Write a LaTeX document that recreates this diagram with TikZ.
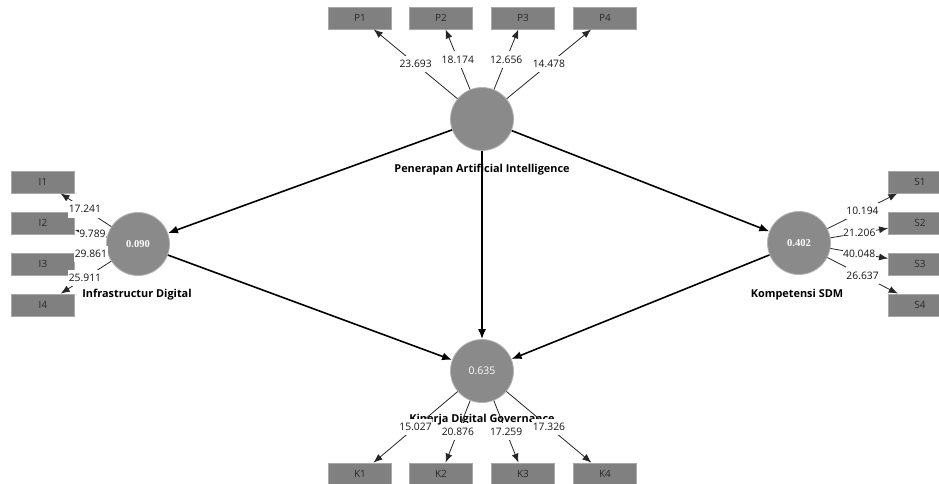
\documentclass[tikz,border=0pt]{standalone}
\usepackage{fontspec}
\setmainfont{Open Sans}
\newfontfamily\valfont{Liberation Serif}
\usetikzlibrary{arrows.meta}
\definecolor{lvgray}{HTML}{8A8A8A}
\definecolor{lvborder}{HTML}{B4B4B4}
\definecolor{boxgray}{HTML}{808080}
\definecolor{boxborder}{HTML}{A8A8A8}
\definecolor{boxtext}{HTML}{2A2A2A}
\begin{document}
\begin{tikzpicture}[x=1pt,y=-1pt,
 lv/.style={circle,fill=lvgray,draw=lvborder,line width=0.8pt,minimum size=63pt,inner sep=0pt,text=white,font=\fontsize{10.5}{12}\selectfont},
 ind/.style={rectangle,fill=boxgray,draw=boxborder,line width=0.8pt,minimum width=63pt,minimum height=22pt,inner sep=0pt,font=\fontsize{10}{12}\selectfont,text=boxtext},
 lvname/.style={font=\bfseries\fontsize{10.9}{13}\selectfont},
 num/.style={fill=white,inner xsep=0.6pt,inner ysep=4.5pt,font=\fontsize{10.3}{12}\selectfont,text=black!92},
 strpath/.style={line width=1.6pt,-{Latex[length=10pt,width=8pt]}},
 loadpath/.style={line width=0.8pt,black!85,-{Latex[length=9pt,width=7pt]}}]
\useasboundingbox (0,0) rectangle (939,484);
\clip (0,0) rectangle (939,484);
\fill[white] (0,0) rectangle (939,484);

% latent variables
\node[lv] (pai) at (482,119) {};
\node[lv] (inf) at (138,244) {\valfont\bfseries 0.090};
\node[lv] (kom) at (799,243) {\valfont\bfseries 0.402};
\node[lv] (kin) at (482,371) {0.635};

% latent names
\node[lvname] (painame) at (482,170) {Penerapan Artificial Intelligence};
\node[lvname] (infname) at (137,295) {Infrastructur Digital};
\node[lvname] (komname) at (797,295) {Kompetensi SDM};
\node[lvname] (kinname) at (482,420) {Kinerja Digital Governance};

% indicators
\node[ind] (p1) at (360,18) {P1};
\node[ind] (p2) at (441,18) {P2};
\node[ind] (p3) at (523,18) {P3};
\node[ind] (p4) at (605,18) {P4};
\node[ind] (i1) at (43,182) {I1};
\node[ind] (i2) at (43,223) {I2};
\node[ind] (i3) at (43,264) {I3};
\node[ind] (i4) at (43,305) {I4};
\node[ind] (s1) at (920,182) {S1};
\node[ind] (s2) at (920,223) {S2};
\node[ind] (s3) at (920,264) {S3};
\node[ind] (s4) at (920,305) {S4};
\node[ind] (k1) at (360,474) {K1};
\node[ind] (k2) at (441,474) {K2};
\node[ind] (k3) at (523,474) {K3};
\node[ind] (k4) at (605,474) {K4};

% structural paths
\draw[strpath] (pai) -- (inf);
\draw[strpath] (pai) -- (kom);
\draw[strpath] (pai) -- (kin);
\draw[strpath] (inf) -- (kin);
\draw[strpath] (kom) -- (kin);

% loadings
\draw[loadpath] (pai) -- node[num]{23.693} (p1);
\draw[loadpath] (pai) -- node[num]{18.174} (p2);
\draw[loadpath] (pai) -- node[num]{12.656} (p3);
\draw[loadpath] (pai) -- node[num]{14.478} (p4);
\draw[loadpath] (inf) -- node[num,pos=0.52]{17.241} (i1);
\draw[loadpath] (inf) -- node[num,pos=0.45]{9.789} (i2);
\draw[loadpath] (inf) -- node[num,pos=0.5]{29.861} (i3);
\draw[loadpath] (inf) -- node[num,pos=0.52]{25.911} (i4);
\draw[loadpath] (kom) -- node[num]{10.194} (s1);
\draw[loadpath] (kom) -- node[num]{21.206} (s2);
\draw[loadpath] (kom) -- node[num]{40.048} (s3);
\draw[loadpath] (kom) -- node[num]{26.637} (s4);
\draw[loadpath] (kin) -- node[num,pos=0.5]{15.027} (k1);
\draw[loadpath] (kin) -- node[num]{20.876} (k2);
\draw[loadpath] (kin) -- node[num]{17.259} (k3);
\draw[loadpath] (kin) -- node[num,pos=0.5]{17.326} (k4);
\end{tikzpicture}
\end{document}
